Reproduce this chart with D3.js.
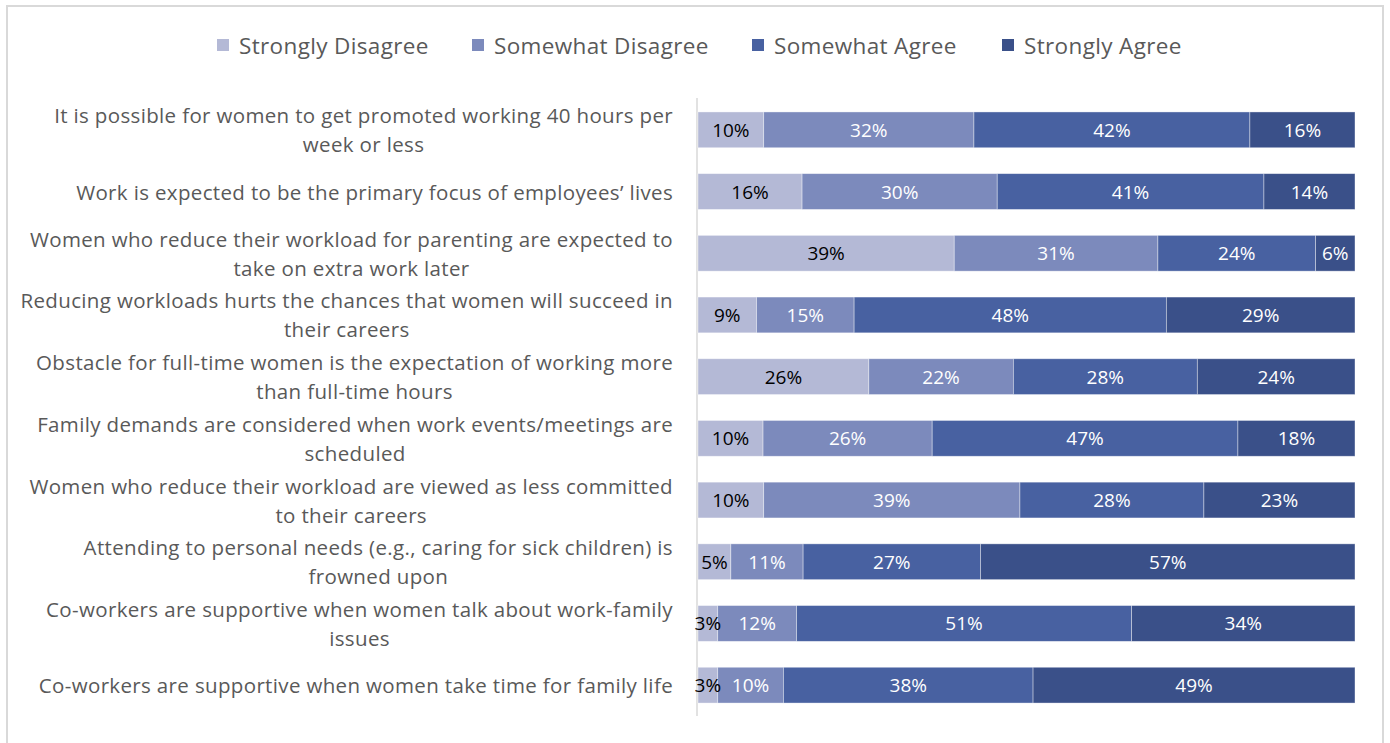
<!DOCTYPE html>
<html>
<head>
<meta charset="utf-8">
<script src="https://cdn.jsdelivr.net/npm/d3@7"></script>
<style>
  html, body { margin: 0; padding: 0; background: #fff; }
  svg { display: block; font-family: "Open Sans", Lato, sans-serif; }
</style>
</head>
<body>
<svg id="chart" width="1390" height="743"></svg>
<script>
// Survey statements, top to bottom (line breaks as set in the axis labels)
const statements = [
  ["It is possible for women to get promoted working 40 hours per", "week or less"],
  ["Work is expected to be the primary focus of employees\u2019 lives"],
  ["Women who reduce their workload for parenting are expected to", "take on extra work later"],
  ["Reducing workloads hurts the chances that women  will succeed in", "their careers"],
  ["Obstacle for full-time women is the expectation of working more", "than full-time hours"],
  ["Family demands are considered when work events/meetings are", "scheduled"],
  ["Women who reduce their workload are viewed as less committed", "to their careers"],
  ["Attending to personal needs (e.g., caring for sick children) is", "frowned upon"],
  ["Co-workers are supportive when women talk about work-family", "issues"],
  ["Co-workers are supportive when women take time for family life"]
];

const responses = ["Strongly Disagree", "Somewhat Disagree", "Somewhat Agree", "Strongly Agree"];

// Percent of respondents per statement, one array per response level
const stronglyDisagree = [10, 16, 39, 9, 26, 10, 10, 5, 3, 3];
const somewhatDisagree = [32, 30, 31, 15, 22, 26, 39, 11, 12, 10];
const somewhatAgree    = [42, 41, 24, 48, 28, 47, 28, 27, 51, 38];
const stronglyAgree    = [16, 14, 6, 29, 24, 18, 23, 57, 34, 49];

const colors = ["#b4b9d6", "#7c8abc", "#4861a1", "#3a5089"];
const labelColors = ["#000000", "#ffffff", "#ffffff", "#ffffff"];

const rows = statements.map((s, i) => ({
  key: i,
  lines: s,
  "Strongly Disagree": stronglyDisagree[i],
  "Somewhat Disagree": somewhatDisagree[i],
  "Somewhat Agree": somewhatAgree[i],
  "Strongly Agree": stronglyAgree[i]
}));

const svg = d3.select("#chart");

// chart frame
svg.append("rect")
  .attr("x", 7).attr("y", 6)
  .attr("width", 1376).attr("height", 760)
  .attr("fill", "none").attr("stroke", "#d9d9d9").attr("stroke-width", 2);

const plot = { left: 698, right: 1355, top: 99, bottom: 716 };

const x = d3.scaleLinear().domain([0, 1]).range([plot.left, plot.right]);
const y = d3.scaleBand()
  .domain(rows.map(d => d.key))
  .range([plot.top, plot.bottom])
  .paddingInner(0.42)
  .paddingOuter(0.21);

// category axis line (under the bars and their labels)
svg.append("line")
  .attr("x1", plot.left - 1).attr("x2", plot.left - 1)
  .attr("y1", plot.top - 1).attr("y2", plot.bottom)
  .attr("stroke", "#d9d9d9").attr("stroke-width", 1.5);

// 100% stacked layout
const stack = d3.stack().keys(responses).offset(d3.stackOffsetExpand);
const series = stack(rows);

const layers = svg.append("g").selectAll("g")
  .data(series)
  .join("g")
  .attr("fill", (d, i) => colors[i]);

layers.selectAll("rect")
  .data(d => d)
  .join("rect")
  .attr("x", d => x(d[0]))
  .attr("y", d => y(d.data.key))
  .attr("width", d => x(d[1]) - x(d[0]))
  .attr("height", y.bandwidth())
  .attr("stroke", "#ffffff")
  .attr("stroke-opacity", 0.5)
  .attr("stroke-width", 0.75);

// value labels
series.forEach((s, si) => {
  svg.append("g").selectAll("text")
    .data(s)
    .join("text")
    .attr("x", d => (x(d[0]) + x(d[1])) / 2)
    .attr("y", d => y(d.data.key) + y.bandwidth() / 2)
    .attr("text-anchor", "middle")
    .attr("dominant-baseline", "central")
    .attr("font-size", 19)
    .attr("fill", labelColors[si])
    .text(d => d.data[s.key] + "%");
});

// category labels: lines centred on each other, block right-aligned
const labelRight = 673;
const lineGap = 29;
const catG = svg.append("g")
  .attr("font-size", 20.5)
  .attr("letter-spacing", 0.35)
  .attr("fill", "#595959");

rows.forEach(r => {
  const g = catG.append("g");
  const cy = y(r.key) + y.bandwidth() / 2;
  const n = r.lines.length;
  const texts = r.lines.map((line, li) =>
    g.append("text")
      .attr("y", cy + (li - (n - 1) / 2) * lineGap)
      .attr("dominant-baseline", "central")
      .attr("text-anchor", "middle")
      .text(line)
  );
  const widest = d3.max(texts, t => t.node().getComputedTextLength());
  texts.forEach(t => t.attr("x", labelRight - widest / 2));
});

// legend
const legendX = [217, 472, 752, 1002];
const legend = svg.append("g")
  .attr("font-size", 22.5)
  .attr("letter-spacing", 0.35)
  .attr("fill", "#595959");
responses.forEach((name, i) => {
  legend.append("rect")
    .attr("x", legendX[i]).attr("y", 39)
    .attr("width", 12).attr("height", 12)
    .attr("fill", colors[i]);
  legend.append("text")
    .attr("x", legendX[i] + 22).attr("y", 45)
    .attr("dominant-baseline", "central")
    .text(name);
});
</script>
</body>
</html>
